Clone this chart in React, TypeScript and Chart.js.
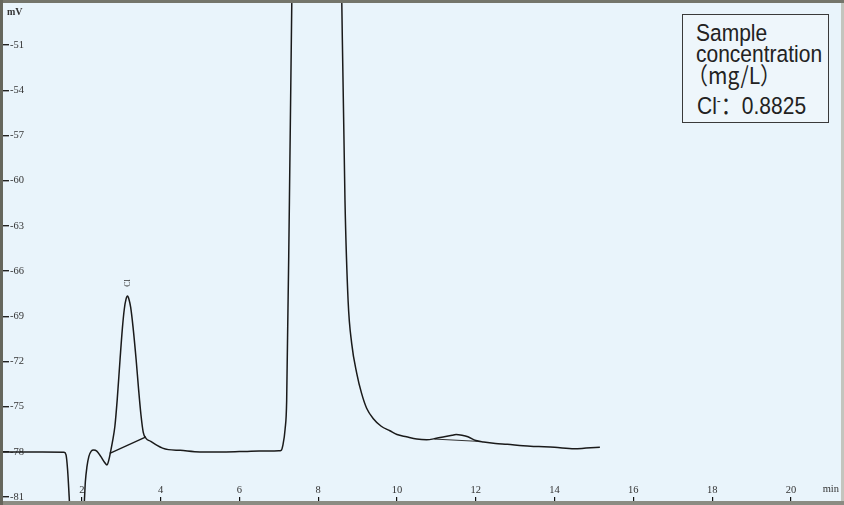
import React, { useEffect, useRef } from "react";
import { Chart, registerables } from "chart.js";

Chart.register(...registerables);

// ---- data ----
const traceTimes = [
  0, 1.0, 1.55, 1.6, 1.64, 1.68, 1.72, 2.0, 2.06, 2.09, 2.13, 2.18, 2.24, 2.3,
  2.38, 2.48, 2.58, 2.64, 2.69, 2.73, 2.78, 2.84, 2.9, 2.97, 3.03, 3.08, 3.12,
  3.16, 3.2, 3.24, 3.3, 3.38, 3.44, 3.5, 3.56, 3.63, 3.75, 3.9, 4.05, 4.2, 4.5,
  5.0, 5.5, 6.0, 6.5, 7.0, 7.06, 7.1, 7.16, 7.2, 7.27, 7.33, 7.45, 8.45, 8.6,
  8.68, 8.76, 8.85, 8.98, 9.1, 9.23, 9.4, 9.6, 9.82, 10.0, 10.24, 10.5, 10.75,
  11.0, 11.2, 11.4, 11.5, 11.65, 11.8, 12.0, 12.2, 12.5, 12.8, 13.2, 13.6, 14.0,
  14.5, 14.8, 15.15,
];
const traceValues = [
  -78.0, -78.0, -78.02, -78.2, -79.2, -81.0, -83, -83, -81.5, -80.0, -79.0,
  -78.3, -77.95, -77.88, -77.95, -78.3, -78.7, -78.87, -78.5, -78.0, -77.3,
  -76.3, -74.5, -71.9, -69.8, -68.5, -67.9, -67.66, -67.9, -68.4, -69.7, -71.9,
  -73.8, -75.5, -76.7, -77.1, -77.3, -77.55, -77.75, -77.85, -77.9, -78.0,
  -78.0, -77.98, -77.95, -77.93, -77.9, -77.6, -76.5, -74.6, -61.3, -48.2, -20,
  -20, -48.3, -61.3, -68.0, -70.8, -72.8, -74.1, -75.1, -75.8, -76.3, -76.6,
  -76.85, -77.0, -77.15, -77.2, -77.1, -77.0, -76.9, -76.85, -76.9, -77.0,
  -77.25, -77.35, -77.45, -77.5, -77.6, -77.65, -77.7, -77.8, -77.75, -77.7,
];
const clBaselineTimes = [2.71, 3.63];
const clBaselineValues = [-78.1, -77.0];
const bumpBaselineTimes = [10.95, 12.05];
const bumpBaselineValues = [-77.15, -77.3];

const xTickValues = [2, 4, 6, 8, 10, 12, 14, 16, 18, 20];
const yTickValues = [-81, -78, -75, -72, -69, -66, -63, -60, -57, -54, -51];
const xMin = 0;
const xMax = 21.27;
const yMin = -81.26;
const yMax = -48.21;

const peakLabel = "Cl";
const peakTime = 3.16;
const peakValue = -67.66;
const yUnit = "mV";
const xUnit = "min";

const legendTitle = ["Sample", "concentration", "（mg/L）"];
const resultIon = "Cl";
const resultValue = "0.8825";

const BG = "#e9f4fb";
const LINE = "#1a1a1a";

const zeroPadding = (s: any) => {
  s.paddingTop = 0;
  s.paddingBottom = 0;
  s.paddingLeft = 0;
  s.paddingRight = 0;
};

const framePlugin = {
  id: "frame",
  beforeDraw(chart: any) {
    const { ctx, chartArea } = chart;
    const { left, top, right, bottom } = chartArea;
    ctx.save();
    ctx.fillStyle = BG;
    ctx.fillRect(left, top, right - left, bottom - top);
    ctx.restore();
  },
  afterDatasetsDraw(chart: any) {
    const { ctx, chartArea, scales } = chart;
    const px = scales.x.getPixelForValue(peakTime);
    const py = scales.y.getPixelForValue(peakValue);
    ctx.save();
    ctx.translate(px, py - 13);
    ctx.rotate(-Math.PI / 2);
    ctx.fillStyle = "#333";
    ctx.font = '8px "Liberation Serif"';
    ctx.textAlign = "center";
    ctx.textBaseline = "middle";
    ctx.fillText(peakLabel, 0, 0);
    ctx.restore();

    const { left, top, right, bottom } = chartArea;
    ctx.save();
    ctx.fillStyle = "#333";
    ctx.font = 'bold 10px "Liberation Serif"';
    ctx.textAlign = "left";
    ctx.textBaseline = "middle";
    ctx.fillText(yUnit, left + 4, top + 9);
    ctx.font = '10.5px "Liberation Serif"';
    ctx.textAlign = "right";
    ctx.fillText(xUnit, right - 2, bottom - 12);
    ctx.restore();
  },
  afterDraw(chart: any) {
    const { ctx, chartArea, width, height } = chart;
    const { left, top, right, bottom } = chartArea;
    ctx.save();
    ctx.fillStyle = "#c3c5be";
    ctx.fillRect(right, 0, width - right, height);
    ctx.fillStyle = "#74756b";
    ctx.fillRect(0, 0, width, top);
    ctx.fillStyle = "#8b8c83";
    ctx.fillRect(0, bottom, width, height - bottom);
    ctx.fillStyle = "#65665c";
    ctx.fillRect(0, 0, left, height);
    ctx.restore();
  },
};

export default function App() {
  const canvasRef = useRef<HTMLCanvasElement | null>(null);

  useEffect(() => {
    if (!canvasRef.current) return;
    const tickFont = { family: '"Liberation Serif", serif', size: 10.5 };
    const chart = new Chart(canvasRef.current, {
      type: "line",
      data: {
        datasets: [
          {
            data: traceTimes.map((t, i) => ({ x: t, y: traceValues[i] })),
            borderColor: LINE,
            borderWidth: 1.5,
            pointRadius: 0,
            fill: false,
            cubicInterpolationMode: "monotone",
          },
          {
            data: clBaselineTimes.map((t, i) => ({ x: t, y: clBaselineValues[i] })),
            borderColor: LINE,
            borderWidth: 1.3,
            pointRadius: 0,
            fill: false,
          },
          {
            data: bumpBaselineTimes.map((t, i) => ({ x: t, y: bumpBaselineValues[i] })),
            borderColor: "#333",
            borderWidth: 1,
            pointRadius: 0,
            fill: false,
          },
        ],
      },
      options: {
        animation: false,
        responsive: false,
        maintainAspectRatio: false,
        layout: { padding: { left: 3, top: 3, right: 3, bottom: 4 } },
        plugins: { legend: { display: false }, tooltip: { enabled: false } },
        scales: {
          x: {
            type: "linear",
            min: xMin,
            max: xMax,
            position: "bottom",
            afterBuildTicks: (s: any) => {
              s.ticks = xTickValues.map((v) => ({ value: v }));
            },
            afterFit: (s: any) => {
              s.height = 0;
              zeroPadding(s);
            },
            grid: {
              display: true,
              drawOnChartArea: false,
              drawTicks: true,
              tickLength: -4,
              color: "#111",
              lineWidth: 1.2,
            },
            border: { display: false },
            ticks: {
              mirror: true,
              padding: 4,
              color: "#333",
              font: tickFont,
              autoSkip: false,
              maxRotation: 0,
              callback: (v: any) => String(v),
            },
          },
          y: {
            type: "linear",
            min: yMin,
            max: yMax,
            position: "left",
            afterBuildTicks: (s: any) => {
              s.ticks = yTickValues.map((v) => ({ value: v }));
            },
            afterFit: (s: any) => {
              s.width = 0;
              zeroPadding(s);
            },
            grid: {
              display: true,
              drawOnChartArea: false,
              drawTicks: true,
              tickLength: -6,
              color: "#222",
              lineWidth: 1.4,
            },
            border: { display: false },
            ticks: {
              mirror: true,
              padding: 7,
              color: "#333",
              font: tickFont,
              autoSkip: false,
              callback: (v: any) => String(v),
            },
          },
        },
      },
      plugins: [framePlugin],
    } as any);
    return () => chart.destroy();
  }, []);

  const lineStyle: React.CSSProperties = {
    position: "absolute",
    whiteSpace: "nowrap",
    fontFamily: '"Liberation Sans", "Noto Sans CJK SC", sans-serif',
    fontSize: 21,
    lineHeight: "21px",
    color: "#222",
    transform: "scaleY(1.12)",
    transformOrigin: "left center",
  };

  return (
    <div style={{ position: "fixed", left: 0, top: 0, width: 844, height: 505 }}>
      <canvas ref={canvasRef} width={844} height={505} style={{ display: "block" }} />
      <div
        style={{
          position: "absolute",
          left: 682,
          top: 14,
          width: 147,
          height: 109,
          boxSizing: "border-box",
          border: "1.5px solid #3a3a3a",
          background: "#eef6fb",
        }}
      >
        <span style={{ ...lineStyle, left: 13, top: 6.7 }}>{legendTitle[0]}</span>
        <span style={{ ...lineStyle, left: 13, top: 27.7 }}>{legendTitle[1]}</span>
        <span style={{ ...lineStyle, left: 4, top: 48.7 }}>
          <span style={{ fontFamily: '"Noto Sans CJK SC", sans-serif' }}>{legendTitle[2]}</span>
        </span>
        <span style={{ ...lineStyle, left: 14, top: 78.7 }}>
          {resultIon}
          <sup style={{ fontSize: 12, lineHeight: 0 }}>-</sup>
          <span style={{ fontFamily: '"Noto Sans CJK SC", sans-serif' }}>：</span>
          {resultValue}
        </span>
      </div>
    </div>
  );
}
